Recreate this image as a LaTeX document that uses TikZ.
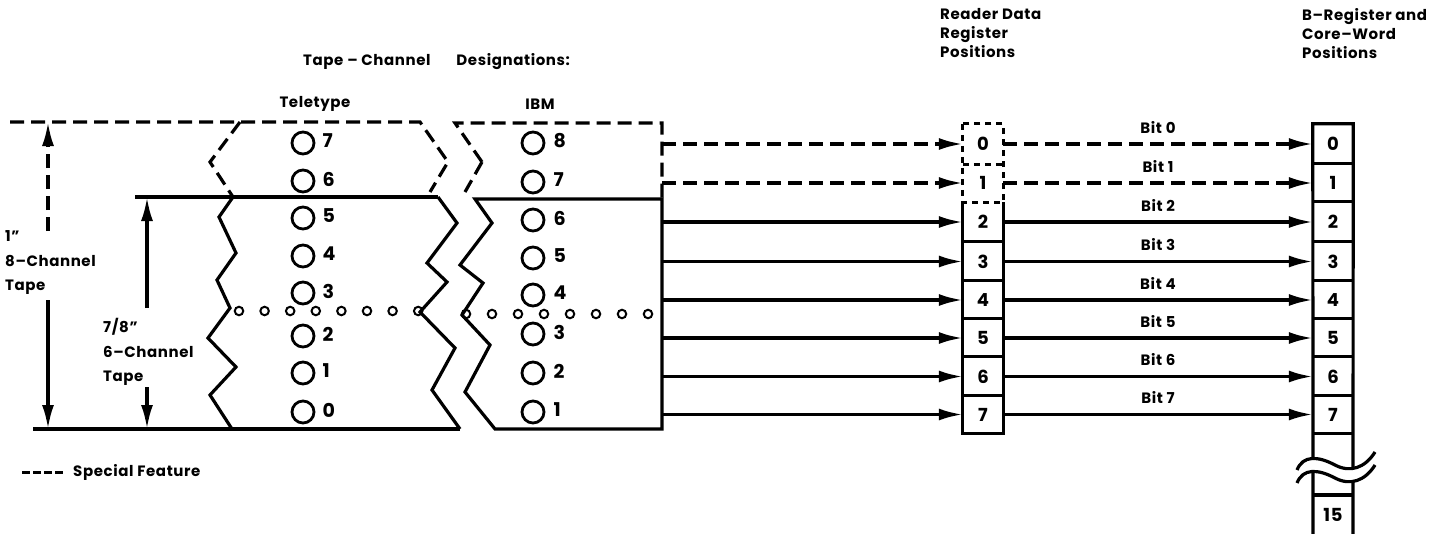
\documentclass[tikz,border=0pt]{standalone}
\usepackage{fontspec}
\setmainfont{Poppins}[LetterSpace=4]
\usetikzlibrary{arrows.meta}
\begin{document}
\begin{tikzpicture}[x=1pt,y=-1pt,
  ln/.style={line width=3.2pt, line join=miter},
  dsh/.style={ln, dash pattern=on 14pt off 7pt},
  dshort/.style={line width=2.8pt, dash pattern=on 6pt off 5pt},
  tip/.style={-{Latex[length=24pt,width=12pt]}},
  arr/.style={ln, tip},
  hole/.style={circle, draw, line width=2.8pt, minimum size=22pt, inner sep=0pt},
  spr/.style={circle, draw, line width=2pt, minimum size=8.5pt, inner sep=0pt},
  hl/.style={font=\fontsize{19}{19}\selectfont\bfseries, anchor=west, inner sep=1pt},
  txt/.style={font=\fontsize{15}{19}\selectfont\bfseries, inner sep=0pt},
  cell/.style={minimum width=40pt, inner sep=0pt, font=\fontsize{18}{18}\selectfont\bfseries},
]
\useasboundingbox (0,0) rectangle (1429,533);
\fill[white] (0,0) rectangle (1429,533);

% ---------- titles
\node[txt, anchor=west] (title) at (303,62) {Tape -- Channel\hspace{22pt} Designations:};
\node[txt] (tty) at (315,104) {Teletype};
\node[txt] (ibm) at (540,104) {IBM};
\node[txt, anchor=north west, align=left] (rdt) at (940,8) {Reader Data\\Register\\Positions};
\node[txt, anchor=north west, align=left] (bdt) at (1302,8) {B--Register and\\Core--Word\\Positions};

% ---------- tape outlines
% special feature (dashed) part
\draw[dsh] (10,122) -- (420,122) -- (448,162) -- (430,192);
\draw[dsh] (240,122) -- (210,162) -- (233,197);
\draw[dsh] (482,162) -- (455,123) -- (662,123) -- (662,199);
\draw[dsh] (482,162) -- (465,192);
% 6-channel (solid) part
\draw[ln] (135,197) -- (438,197);
\draw[ln] (33,429) -- (460,429);
\draw[ln] (233,197) -- (219,217) -- (236,253) -- (217,280) -- (230,308) -- (208,338) -- (236,367) -- (210,395) -- (232,429);
\draw[ln] (438,197) -- (457,223) -- (427,263) -- (447,282) -- (420,312) -- (455,348) -- (432,390) -- (460,429);
\draw[ln] (495,429) -- (465,392) -- (490,345) -- (462,315) -- (483,283) -- (460,265) -- (492,223) -- (475,199) -- (662,199) -- (662,429) -- cycle;

% ---------- holes
\foreach \n/\y in {7/143,6/181,5/218,4/256,3/293,2/336,1/373,0/412}{
  \node[hole] (tt\n) at (303,\y) {};
  \node[hl] (ttl\n) at ([xshift=6pt,yshift=2pt]tt\n.east) {\n};
}
\foreach \n/\y in {8/143,7/182,6/220,5/258,4/295,3/334,2/373,1/412}{
  \node[hole] (ib\n) at (533,\y) {};
  \node[hl] (ibl\n) at ([xshift=7pt,yshift=2pt]ib\n.east) {\n};
}
\foreach \i in {0,...,7}{
  \node[spr] (ts\i) at ({239+25.6*\i},311) {};
  \node[spr] (is\i) at ({466+26*\i},314) {};
}

% ---------- dimension arrows
\coordinate (a1t) at (48,122);  \coordinate (a1m) at (48,231);
\coordinate (a1n) at (48,300);  \coordinate (a1b) at (48,429);
\coordinate (a2t) at (147,197); \coordinate (a2m) at (147,308);
\coordinate (a2n) at (147,387); \coordinate (a2b) at (147,429);
\draw[dsh, tip] (a1m) -- (a1t);
\draw[arr] (a1n) -- (a1b);
\draw[arr] (a2m) -- (a2t);
\draw[arr] (a2n) -- (a2b);
\node[txt, anchor=west, align=left, font=\fontsize{15}{24.5}\selectfont\bfseries] (l1) at (5,263) {1"\\8--Channel\\Tape};
\node[txt, anchor=west, align=left, font=\fontsize{15}{24.5}\selectfont\bfseries] (l2) at (103,352) {7/8"\\6--Channel\\Tape};

% ---------- registers
\foreach \n/\c/\h in {0/144/40,1/183/38,2/222/40,3/261.5/39,4/300/38,5/338/38,6/376.5/39,7/414.5/37}{
  \node[cell, minimum height=\h pt] (r\n) at (983,\c) {\n};
  \node[cell, minimum height=\h pt] (b\n) at (1333,\c) {\n};
}
% reader outline
\draw[dshort] (r0.north west) rectangle (r1.south east);
\draw[dshort] (r0.south west) -- (r0.south east);
\draw[ln] (r2.north west) -- (r7.south west) -- (r7.south east) -- (r2.north east);
\foreach \n in {3,...,7} \draw[ln] (r\n.north west) -- (r\n.north east);
% B-register outline
\draw[ln] (1313,545) -- (b0.north west) -- (b0.north east) -- (1353,545);
\foreach \n in {1,...,7} \draw[ln] (b\n.north west) -- (b\n.north east);
\draw[ln] (b7.south west) -- (b7.south east);
\fill[white] (1297,470) .. controls (1303,455) and (1318,456) .. (1335,465) .. controls (1350,473) and (1365,468) .. (1375,452)
  -- (1375,465) .. controls (1365,481) and (1350,486) .. (1335,478) .. controls (1318,469) and (1303,468) .. (1297,483) -- cycle;
\draw[ln] (1297,470) .. controls (1303,455) and (1318,456) .. (1335,465) .. controls (1350,473) and (1365,468) .. (1375,452);
\draw[ln] (1297,483) .. controls (1303,468) and (1318,469) .. (1335,478) .. controls (1350,486) and (1365,481) .. (1375,465);
\draw[ln] (1313,495) -- (1353,495);
\node[cell] (b15) at (1333,515) {15};

% ---------- connectors
\coordinate (ibmR) at (662,0);
\foreach \n in {0,1}
  \draw[arr, dsh] (r\n.west -| ibmR) -- (r\n.west);
\foreach \n in {2,...,7}
  \draw[arr] (r\n.west -| ibmR) -- (r\n.west);
\foreach \n in {0,1}
  \draw[arr, dsh] (r\n.east) -- node[txt, above=9pt] {Bit \n} (b\n.west);
\foreach \n in {2,...,7}
  \draw[arr] (r\n.east) -- node[txt, above=9pt] {Bit \n} (b\n.west);

% ---------- legend
\coordinate (lg1) at (22,472); \coordinate (lg2) at (63,472);
\draw[line width=3pt, dash pattern=on 8pt off 3pt] (lg1) -- (lg2);
\node[txt, anchor=west] (lgt) at (73,472) {Special Feature};
\end{tikzpicture}
\end{document}
